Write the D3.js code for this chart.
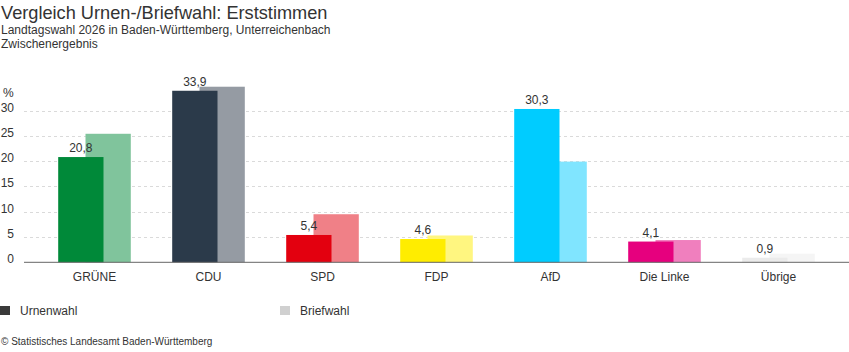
<!DOCTYPE html>
<html>
<head>
<meta charset="utf-8">
<script src="https://cdn.jsdelivr.net/npm/d3@7"></script>
<style>
  body { margin: 0; background: #fff; }
  svg { font-family: "Liberation Sans", Arial, sans-serif; }
</style>
</head>
<body>
<div id="chart"></div>
<script>
// data
const parties = ["GRÜNE", "CDU", "SPD", "FDP", "AfD", "Die Linke", "Übrige"];
const urnen = [20.8, 33.9, 5.4, 4.6, 30.3, 4.1, 0.9];
const brief = [25.4, 34.7, 9.5, 5.3, 19.9, 4.4, 1.7];
const colorsUrnen = ["#008939", "#2b3a4a", "#e3000f", "#ffed00", "#00ccff", "#e6007e", "#ebebeb"];
const colorsBrief = ["#80c49c", "#959ba3", "#f08087", "#fff680", "#80e5ff", "#f07fbe", "#f5f5f5"];
const yTicks = [0, 5, 10, 15, 20, 25, 30];

const width = 849, height = 352;
const margin = { left: 24, right: 0, top: 0 };
const baseY = 262.3;

const svg = d3.select("#chart").append("svg")
    .attr("width", width)
    .attr("height", height);

// titles
svg.append("text").attr("x", 1).attr("y", 19)
    .attr("font-size", 18.2).attr("fill", "#333")
    .text("Vergleich Urnen-/Briefwahl: Erststimmen");
svg.append("text").attr("x", 1).attr("y", 34)
    .attr("font-size", 12).attr("fill", "#333")
    .text("Landtagswahl 2026 in Baden-Württemberg, Unterreichenbach");
svg.append("text").attr("x", 1).attr("y", 48)
    .attr("font-size", 12).attr("fill", "#333")
    .text("Zwischenergebnis");

// scales
const x = d3.scaleBand().domain(parties).range([37.5, 835.5]).padding(0);
const y = d3.scaleLinear().domain([0, 30]).range([baseY, baseY - 151.8]);
const barW = 45.3, offset = 27.3;
const groupW = barW + offset;

// grid
const grid = svg.append("g");
grid.selectAll("line").data(yTicks.filter(d => d > 0)).join("line")
    .attr("x1", margin.left).attr("x2", width)
    .attr("y1", d => Math.round(y(d)) + 0.5).attr("y2", d => Math.round(y(d)) + 0.5)
    .attr("stroke", "#dadada").attr("stroke-dasharray", "3,3");

svg.append("g").selectAll("text").data(yTicks).join("text")
    .attr("x", 14).attr("y", d => y(d) + 1)
    .attr("text-anchor", "end")
    .attr("font-size", 12).attr("fill", "#333")
    .text(d => d);
svg.append("text").attr("x", 3).attr("y", 97)
    .attr("font-size", 12).attr("fill", "#333").text("%");

// bars: briefwahl behind, urnenwahl in front
const groups = svg.append("g").selectAll("g").data(parties).join("g")
    .attr("transform", d => `translate(${x(d) + (x.bandwidth() - groupW) / 2},0)`);

groups.append("rect")
    .attr("x", offset).attr("width", barW)
    .attr("y", (d, i) => y(brief[i]))
    .attr("height", (d, i) => baseY - y(brief[i]))
    .attr("fill", (d, i) => colorsBrief[i]);

groups.append("rect")
    .attr("x", 0).attr("width", barW)
    .attr("y", (d, i) => y(urnen[i]))
    .attr("height", (d, i) => baseY - y(urnen[i]))
    .attr("fill", (d, i) => colorsUrnen[i]);

groups.append("text")
    .attr("x", barW / 2)
    .attr("y", (d, i) => y(urnen[i]) - 5)
    .attr("text-anchor", "middle")
    .attr("font-size", 12).attr("fill", "#333")
    .text((d, i) => urnen[i].toFixed(1).replace(".", ","));

// axis line
svg.append("line")
    .attr("x1", margin.left).attr("x2", width)
    .attr("y1", baseY).attr("y2", baseY)
    .attr("stroke", "#666").attr("stroke-width", 1);

// category labels
svg.append("g").selectAll("text").data(parties).join("text")
    .attr("x", d => x(d) + x.bandwidth() / 2)
    .attr("y", 281)
    .attr("text-anchor", "middle")
    .attr("font-size", 12).attr("fill", "#333")
    .text(d => d);

// legend
const legend = [
    { label: "Urnenwahl", color: "#3a3a3a", x: 0 },
    { label: "Briefwahl", color: "#d0d0d0", x: 280 }
];
const lg = svg.append("g").selectAll("g").data(legend).join("g")
    .attr("transform", d => `translate(${d.x},306)`);
lg.append("rect").attr("width", 10).attr("height", 9).attr("fill", d => d.color);
lg.append("text").attr("x", 20).attr("y", 9)
    .attr("font-size", 12).attr("fill", "#333").text(d => d.label);

// source
svg.append("text").attr("x", 1).attr("y", 345)
    .attr("font-size", 10).attr("fill", "#333")
    .text("© Statistisches Landesamt Baden-Württemberg");
</script>
</body>
</html>
